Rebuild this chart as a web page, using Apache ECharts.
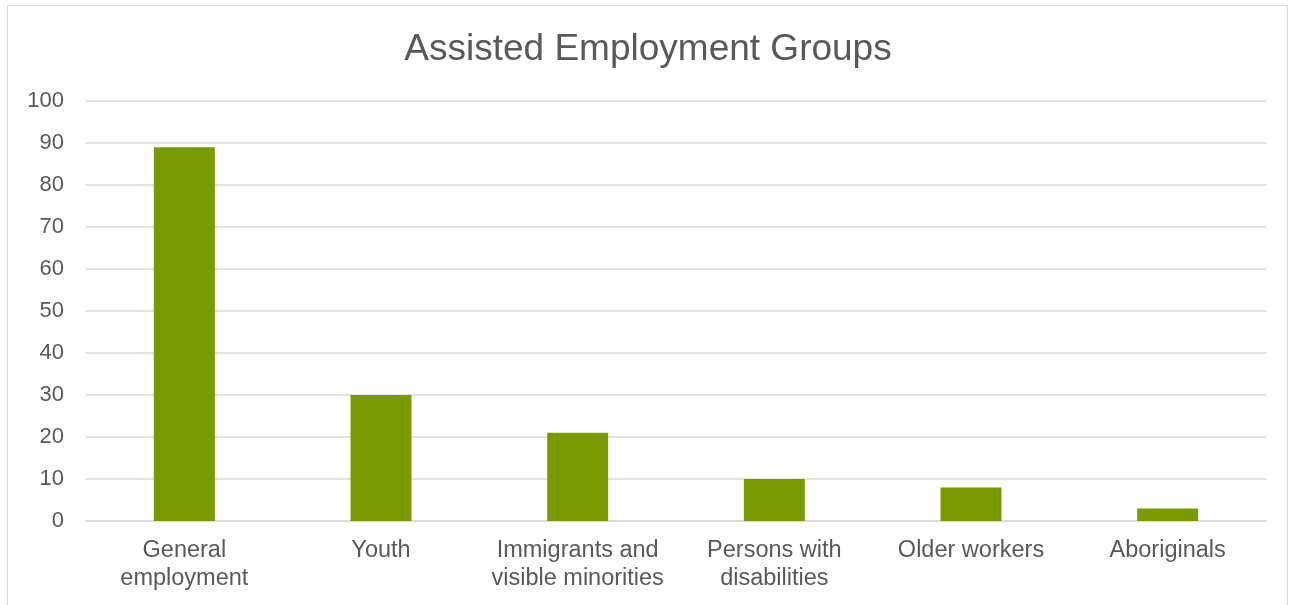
<!DOCTYPE html>
<html><head><meta charset="utf-8">
<script src="https://cdn.jsdelivr.net/npm/echarts@6/dist/echarts.min.js"></script>
<style>
html,body{margin:0;padding:0;background:#fff;overflow:hidden;}
#frame{position:absolute;left:7px;top:5px;width:1281px;height:640px;border:1px solid #d9d9d9;box-sizing:border-box;}
#chart{position:absolute;left:0;top:0;width:1296px;height:605px;}
</style></head>
<body>
<div id="frame"></div>
<div id="chart"></div>
<script>
const categories = ['General\nemployment','Youth','Immigrants and\nvisible minorities','Persons with\ndisabilities','Older workers','Aboriginals'];
const values = [89, 30, 21, 10, 8, 3];
const chart = echarts.init(document.getElementById('chart'));
chart.setOption({
  animation:false,
  title:{text:'Assisted Employment Groups',left:'center',top:26,
    textStyle:{fontFamily:'Liberation Sans, Arial',fontSize:37,fontWeight:'normal',color:'#595959'}},
  grid:{left:86,right:30,top:101,bottom:84},
  xAxis:{type:'category',data:categories,
    axisLine:{lineStyle:{color:'#d9d9d9',width:1.5}},axisTick:{show:false},
    axisLabel:{fontFamily:'Liberation Sans, Arial',fontSize:23.5,color:'#595959',lineHeight:28,margin:16,interval:0}},
  yAxis:{type:'value',min:0,max:100,interval:10,
    axisLine:{show:false},axisTick:{show:false},
    splitLine:{lineStyle:{color:'#d9d9d9',width:1.5}},
    axisLabel:{fontFamily:'Liberation Sans, Arial',fontSize:22,color:'#595959',margin:22}},
  series:[{type:'bar',data:values,barWidth:'31%',
    itemStyle:{color:'#7a9a01'}}]
});
</script>
</body></html>
